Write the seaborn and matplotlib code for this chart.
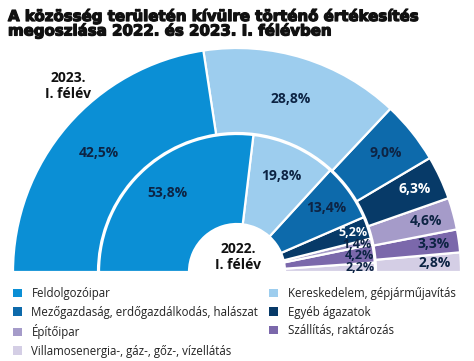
import matplotlib
matplotlib.use("Agg")
import matplotlib.pyplot as plt
import matplotlib.patches as mpatches
import matplotlib.patheffects as pe
import numpy as np
import seaborn as sns

# data
categories = [
    "Feldolgozóipar",
    "Kereskedelem, gépjárműjavítás",
    "Mezőgazdaság, erdőgazdálkodás, halászat",
    "Egyéb ágazatok",
    "Építőipar",
    "Szállítás, raktározás",
    "Villamosenergia-, gáz-, gőz-, vízellátás",
]
share_2023 = [42.5, 28.8, 9.0, 6.3, 4.6, 3.3, 2.8]
share_2022 = [53.8, 19.8, 13.4, 5.2, 1.4, 4.2, 2.2]
ring_2023 = "2023.\nI. félév"
ring_2022 = "2022.\nI. félév"
title = "A közösség területén kívülre történő értékesítés\nmegoszlása 2022. és 2023. I. félévben"

# style
colors = ["#0b8fd5", "#9dcdee", "#0d6aab", "#073a68", "#a59bc9", "#7b68ab", "#d4cee5"]
text_dark = "#0d2444"
label_r_outer = [182, 181, 191, 196, 196, 198, 198]
label_r_inner = [105, 106, 110, 122, 123, 123, 123]
label_size_inner = [10, 10, 10, 9, 9, 9, 9]

sns.set_style("white")
plt.rcParams["font.family"] = ["Open Sans", "DejaVu Sans"]

W, H = 474, 361
fig = plt.figure(figsize=(W / 100, H / 100), dpi=100)
ax = fig.add_axes([0, 0, 1, 1])
cx, cy = 237, 89


def ring(values, radius, width, label_r, sizes):
    vals = np.array(values[::-1]) / 200.0
    wedges, _ = ax.pie(
        vals, radius=radius, center=(cx, cy), startangle=0, counterclock=True,
        normalize=False, colors=colors[::-1],
        wedgeprops=dict(width=width, edgecolor="white", linewidth=1.6),
    )
    wedges = wedges[::-1]
    # first category fills the rest of the half circle
    wedges[0].set_theta2(180)
    for i, w in enumerate(wedges):
        mid = np.deg2rad((w.theta1 + w.theta2) / 2)
        r = label_r[i]
        col = "white" if categories[i] == "Egyéb ágazatok" else text_dark
        ax.text(cx + r * np.cos(mid), cy + r * np.sin(mid),
                f"{values[i]:.1f}%".replace(".", ","),
                ha="center", va="center", fontsize=sizes[i], fontweight="bold", color=col)
    return wedges


outer = ring(share_2023, 224, 85, label_r_outer, [10] * 7)
inner = ring(share_2022, 138, 90, label_r_inner, label_size_inner)

ax.set_xlim(0, W)
ax.set_ylim(0, H)
ax.set_aspect("equal")
ax.axis("off")

ax.text(68, 275, ring_2023, ha="center", va="center", fontsize=10,
        fontweight="bold", color="#111111", linespacing=1.25)
ax.text(238, 104, ring_2022, ha="center", va="center", fontsize=10,
        fontweight="bold", color="#111111", linespacing=1.25)

fig.text(8 / W, 1 - 8 / H, title, ha="left", va="top", fontsize=10.8,
         fontweight="bold", family=["DejaVu Sans"], color="#111111",
         linespacing=0.88,
         path_effects=[pe.withStroke(linewidth=0.9, foreground="#111111")])

order = [0, 2, 4, 6, 1, 3, 5]
handles = [mpatches.Patch(facecolor=colors[i], edgecolor="none") for i in order]
labels = [categories[i] for i in order]
fig.legend(handles, labels, loc="upper left", bbox_to_anchor=(13 / W, 1 - 287 / H),
           ncol=2, frameon=False, fontsize=8.3, handlelength=0.8, handleheight=0.8,
           handletextpad=0.8, columnspacing=0.95, labelspacing=0.48,
           borderpad=0, borderaxespad=0, labelcolor="#222222")

fig.savefig("out.png", dpi=100)
